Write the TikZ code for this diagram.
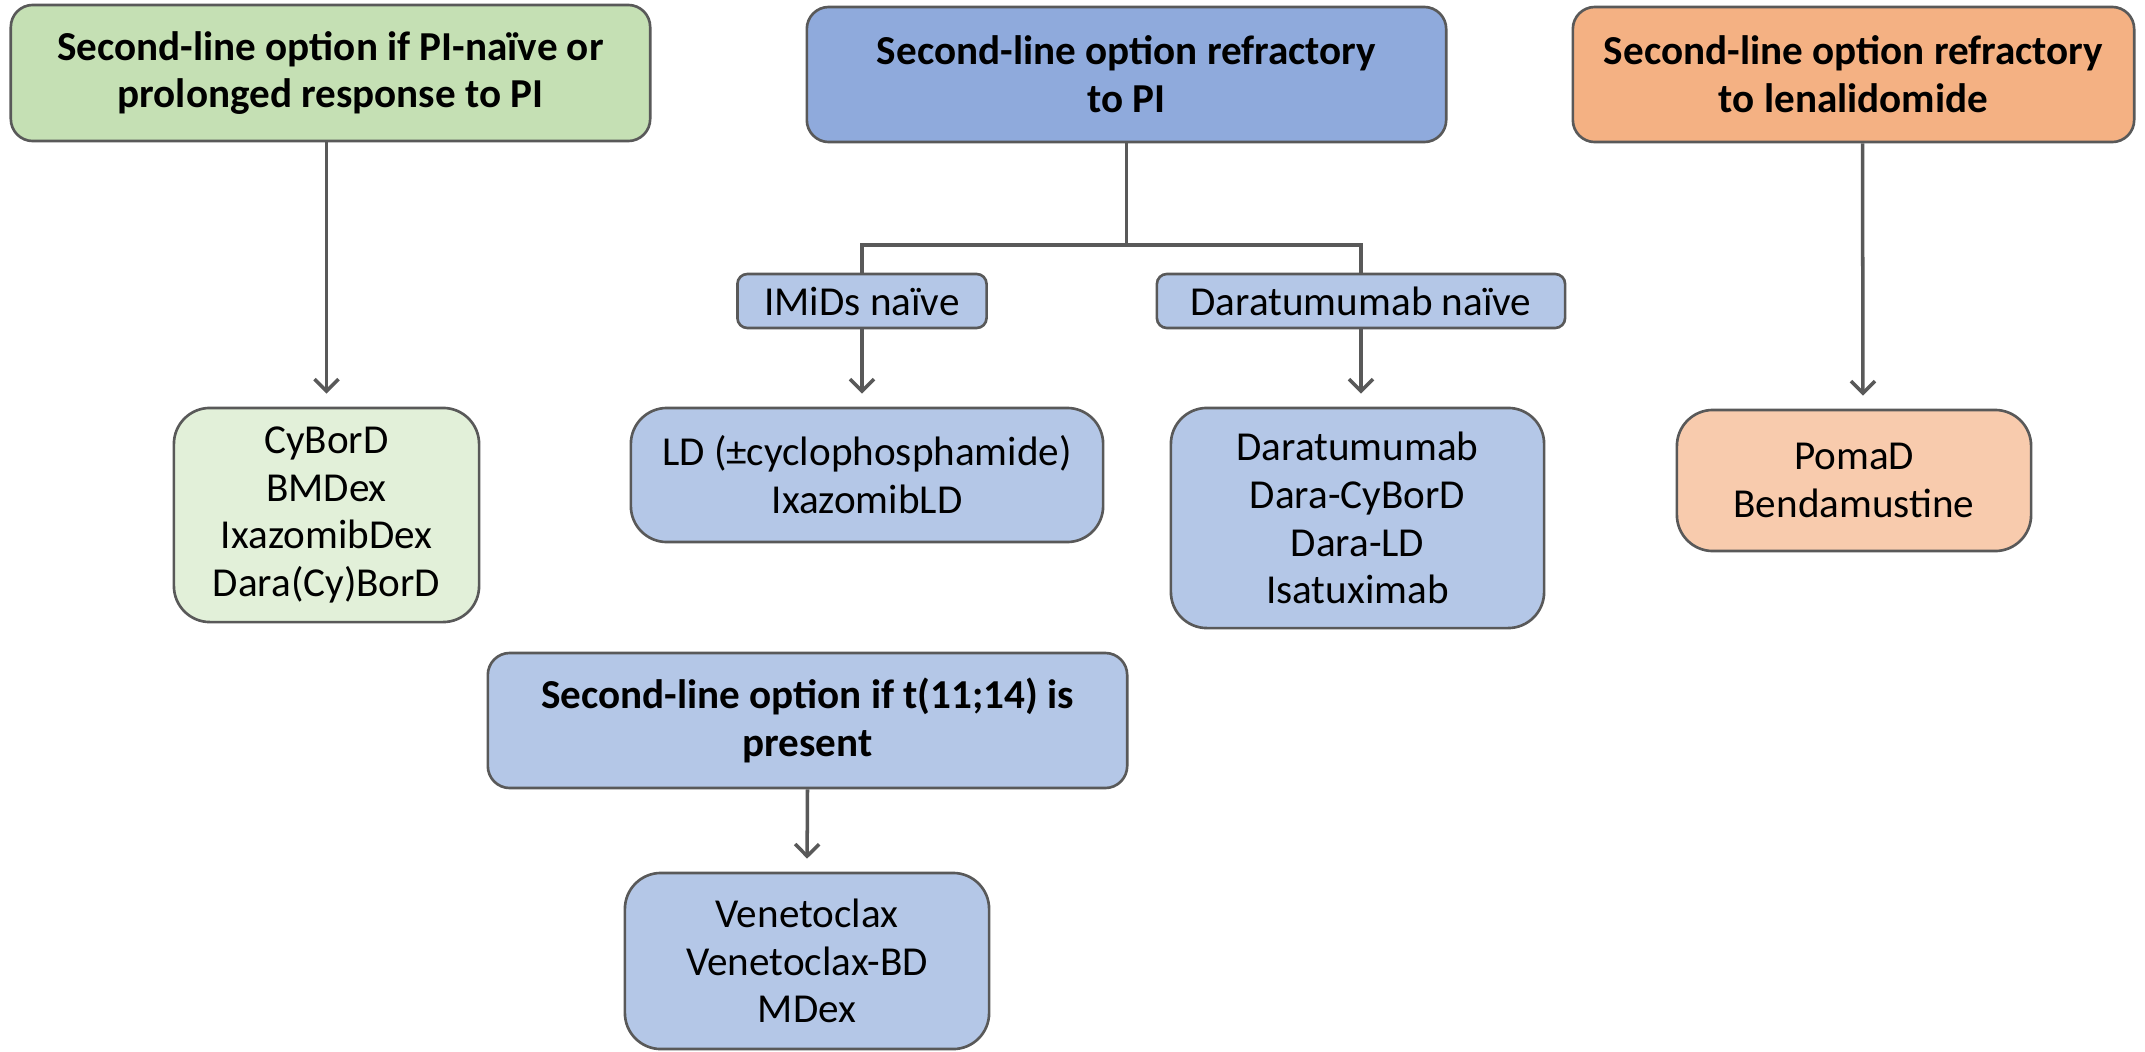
\documentclass[tikz,border=0pt]{standalone}
\usepackage{fontspec}
\setmainfont{Carlito}
\usepackage{tikz}
\usetikzlibrary{arrows.meta,positioning,calc}
\usepackage{xcolor}

\definecolor{edgegray}{HTML}{595959}
\definecolor{greendark}{HTML}{C5E0B4}
\definecolor{greenlight}{HTML}{E2F0D9}
\definecolor{bluedark}{HTML}{8FAADC}
\definecolor{bluelight}{HTML}{B4C7E7}
\definecolor{orangedark}{HTML}{F4B183}
\definecolor{orangelight}{HTML}{F8CBAD}

\tikzset{
    box/.style={draw=edgegray, line width=0.75pt, align=center, inner sep=0pt,
        font=\fontsize{11.7}{13.6}\selectfont},
    headbox/.style={box, rounded corners=0.22cm, font=\fontsize{11.7}{13.6}\selectfont\bfseries},
    tagbox/.style={box, rounded corners=0.1cm},
    resbox/.style={box, rounded corners=0.36cm},
    conn/.style={draw=edgegray, line width=1pt},
    arr/.style={conn, -{Straight Barb[length=0.12cm, width=0.24cm]}, shorten >=0.13cm}
}

\begin{document}
\begin{tikzpicture}[x=0.01cm, y=-0.01cm]
    \useasboundingbox (0,0) rectangle (2145,1051);

    % Top row: the three starting situations
    \node[headbox, fill=greendark, minimum width=6.39cm, minimum height=1.36cm]
        (pinaive) at (330.5,73) {Second-line option if PI-naïve or\\prolonged response to PI};
    \node[headbox, fill=bluedark, minimum width=6.39cm, minimum height=1.35cm]
        (pirefr) at (1126.5,74.5) {Second-line option refractory\\to PI};
    \node[headbox, fill=orangedark, minimum width=5.61cm, minimum height=1.35cm]
        (lenrefr) at (1853.5,74.5) {Second-line option refractory\\to lenalidomide};

    % Sub-groups under PI refractory
    \coordinate (split) at (1126.5,245);
    \node[tagbox, fill=bluelight, minimum width=2.49cm, minimum height=0.54cm]
        (imids) at (862,301) {IMiDs naïve};
    \node[tagbox, fill=bluelight, minimum width=4.08cm, minimum height=0.54cm]
        (daranaive) at (1361,301) {Daratumumab naïve};

    % Treatment lists
    \node[resbox, fill=greenlight, minimum width=3.05cm, minimum height=2.14cm]
        (cybord) at (326.5,515) {CyBorD\\BMDex\\IxazomibDex\\Dara(Cy)BorD};
    \node[resbox, fill=bluelight, minimum width=4.72cm, minimum height=1.34cm]
        (ldres) at (867,475) {LD (±cyclophosphamide)\\IxazomibLD};
    \node[resbox, fill=bluelight, minimum width=3.73cm, minimum height=2.20cm]
        (darares) at (1357.5,518) {Daratumumab\\Dara-CyBorD\\Dara-LD\\Isatuximab};
    \node[resbox, fill=orangelight, minimum width=3.54cm, minimum height=1.41cm]
        (pomad) at (1854,480.5) {PomaD\\Bendamustine};

    % t(11;14) branch
    \node[headbox, fill=bluelight, minimum width=6.39cm, minimum height=1.35cm]
        (tpresent) at (807.5,720.5) {Second-line option if t(11;14) is\\present};
    \node[resbox, fill=bluelight, minimum width=3.64cm, minimum height=1.76cm]
        (venres) at (807,961) {Venetoclax\\Venetoclax-BD\\MDex};

    % Connectors
    \draw[arr] (cybord.north |- pinaive.south) -- (cybord.north);
    \draw[conn] (pirefr.south) -- (split);
    \draw[conn] (split) -| (imids.north);
    \draw[conn] (split) -| (daranaive.north);
    \draw[arr] (imids.south) -- (imids.south |- ldres.north);
    \draw[arr] (daranaive.south) -- (daranaive.south |- darares.north);
    \draw[arr] ([xshift=0.09cm]lenrefr.south) -- ([xshift=0.09cm]pomad.north);
    \draw[arr] (tpresent.south) -- (venres.north);
\end{tikzpicture}
\end{document}
